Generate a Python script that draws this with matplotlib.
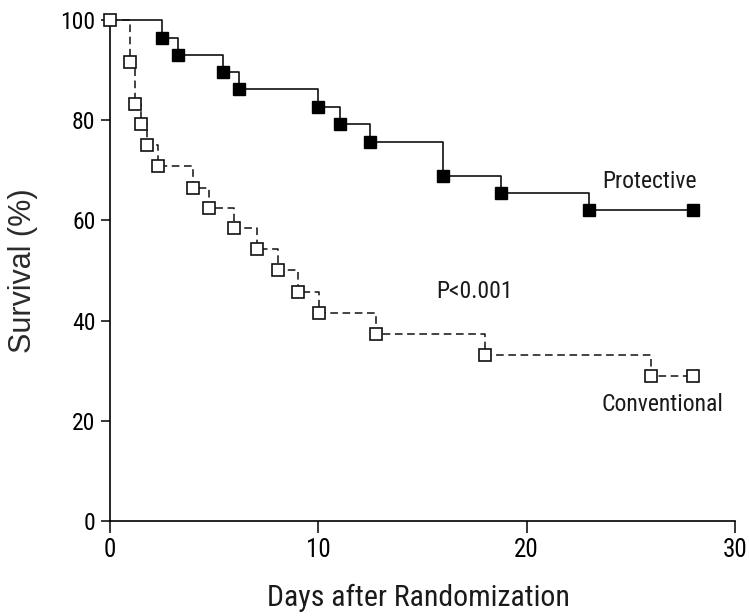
import matplotlib
matplotlib.use("Agg")
import matplotlib.pyplot as plt

# Kaplan-Meier style survival data
prot_days = [0, 2.5, 3.25, 5.4, 6.2, 10.0, 11.05, 12.5, 16.0, 18.75, 23.0, 28.0]
prot_surv = [100, 96.4, 92.9, 89.5, 86.2, 82.6, 79.3, 75.6, 68.8, 65.5, 62.0, 62.0]

conv_days = [0, 0.96, 1.2, 1.47, 1.76, 2.3, 4.0, 4.76, 5.96, 7.05, 8.04, 9.0,
             10.05, 12.75, 18.0, 26.0, 28.0]
conv_surv = [100, 91.5, 83.2, 79.2, 75.0, 70.8, 66.5, 62.4, 58.4, 54.2, 50.0, 45.7,
             41.5, 37.3, 33.2, 28.9, 28.9]

x_ticks = [0, 10, 20, 30]
y_ticks = [0, 20, 40, 60, 80, 100]

# condensed look for ticks/labels, fall back to Roboto (narrower than DejaVu)
narrow = ['Liberation Sans Narrow', 'DejaVu Sans Condensed', 'Roboto Condensed',
          'Roboto', 'DejaVu Sans']
plt.rcParams['font.family'] = narrow

fig = plt.figure(figsize=(7.49, 6.16), dpi=100)
ax = fig.add_axes([0.147, 0.154, 0.834, 0.814])

# conventional: dashed line, open squares
ax.plot(conv_days, conv_surv, drawstyle='steps-post', color='#111111',
        lw=1.1, linestyle=(0, (5, 3)), clip_on=False, zorder=2)
ax.plot(conv_days, conv_surv, linestyle='none', marker='s', markersize=8,
        markerfacecolor='white', markeredgecolor='#111111', markeredgewidth=1.2,
        clip_on=False, zorder=3)

# protective: solid line, filled squares (no marker at the origin)
ax.plot(prot_days, prot_surv, drawstyle='steps-post', color='#111111',
        lw=1.2, clip_on=False, zorder=2)
ax.plot(prot_days[1:], prot_surv[1:], linestyle='none', marker='s', markersize=8.5,
        color='black', clip_on=False, zorder=3)

ax.set_xlim(0, 30)
ax.set_ylim(0, 100)
ax.set_xticks(x_ticks)
ax.set_yticks(y_ticks)
ax.tick_params(axis='x', direction='out', length=8.5, width=1.1, labelsize=18, pad=4)
ax.tick_params(axis='y', direction='out', length=6.5, width=1.1, labelsize=17, pad=4)

for side in ['top', 'right']:
    ax.spines[side].set_visible(False)
for side in ['left', 'bottom']:
    ax.spines[side].set_linewidth(1.2)

ax.set_xlabel("Days after Randomization", fontsize=21.5, color='#1a1a1a')
ax.xaxis.set_label_coords(0.493, -0.154)
ax.xaxis.label.set_va('center')

ax.set_ylabel("Survival (%)", fontsize=22, color='#2a2a2a',
              family=['Liberation Sans', 'DejaVu Sans'])
ax.yaxis.set_label_coords(-0.139, 0.499)
ax.yaxis.label.set_va('center')

ax.text(25.9, 67.8, "Protective", fontsize=17, ha='center', va='center', color='#1a1a1a')
ax.text(17.5, 45.8, "P<0.001", fontsize=17, ha='center', va='center', color='#1a1a1a')
ax.text(26.55, 23.2, "Conventional", fontsize=17, ha='center', va='center', color='#1a1a1a')

fig.savefig("out.png", dpi=100)
